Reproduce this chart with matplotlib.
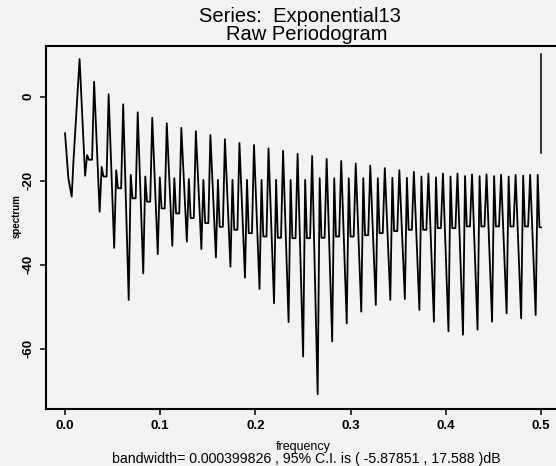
import numpy as np
import matplotlib
matplotlib.use("Agg")
import matplotlib.pyplot as plt

plt.rcParams['font.family'] = ['Liberation Sans', 'DejaVu Sans']

# harmonic spacing of the periodogram pattern (cycles per sample)
spacing = 0.01527

# start of the spectrum, before the first big harmonic
start_freq = [0.0, 0.0035, 0.007, 0.0088]
start_spec = [-8.7, -19.4, -23.8, -15.5]

# per harmonic k = 1..32: tall peak, deep trough, half-harmonic peak, flat dip (dB)
tall_peak = [9.0, 3.6, 0.6, -1.8, -3.7, -5.0, -6.3, -7.4, -8.2, -9.1, -10.1, -11.0,
             -11.5, -12.3, -12.9, -13.6, -14.1, -14.8, -15.3, -15.9, -16.4, -17.0,
             -17.5, -17.9, -18.3, -18.3, -18.3, -18.5, -18.5, -18.6, -18.6, -18.6]
deep_trough = [-18.8, -27.4, -36.0, -48.4, -42.1, -37.5, -35.5, -34.5, -36.3, -38.3,
               -40.5, -43.1, -45.8, -49.2, -53.7, -61.9, -70.9, -58.3, -54.0, -51.2,
               -49.6, -48.4, -48.2, -50.8, -53.6, -55.9, -56.7, -55.5, -53.6, -51.6,
               -52.8, -52.0]
half_peak = [-13.9, -16.7, -17.5, -18.6, -19.0, -19.2, -19.4, -19.6, -19.8, -19.8,
             -19.8, -19.8, -19.8, -19.8, -19.8, -19.8, -19.4, -19.4, -19.4, -19.4,
             -19.4, -19.3, -19.3, -19.0, -19.2, -19.0, -18.9, -18.9, -18.9, -19.0,
             -18.8, -18.6]
flat_dip = [-15.0, -19.0, -21.8, -24.2, -25.0, -26.6, -27.8, -28.9, -30.1, -31.0,
            -31.7, -32.5, -33.3, -33.6, -33.7, -33.7, -33.6, -33.3, -33.3, -33.0,
            -32.5, -32.0, -31.7, -31.7, -31.3, -31.3, -30.9, -30.9, -30.9, -30.9,
            -30.9, -31.1]

# 95% C.I. bar drawn at the right
ci_low, ci_high = -13.5, 10.1

# where each feature sits inside one harmonic cycle
offsets = [0.0, 0.38, 0.52, 0.64, 0.86]

k = np.arange(1, len(tall_peak) + 1)
pos = (k[:, None] + np.array(offsets)[None, :]) * spacing
pos = np.minimum(pos, 0.5)
vals = np.column_stack([tall_peak, deep_trough, half_peak, flat_dip, flat_dip])
freq = np.concatenate([start_freq, pos.ravel()])
spec = np.concatenate([start_spec, vals.ravel()])

bg = '#f3f3f3'
fig = plt.figure(figsize=(5.56, 4.66), dpi=100, facecolor=bg)
ax = fig.add_axes([46 / 556, 1 - 409 / 466, (560 - 46) / 556, (409 - 46) / 466])
ax.set_facecolor(bg)

ax.plot(freq, spec, color='black', linewidth=1.3)
ax.plot([0.5, 0.5], [ci_low, ci_high], color='black', linewidth=1.1)

ax.set_xlim(-0.02, 0.52)
ax.set_ylim(-74.4, 12.1)
ax.set_xticks([0.0, 0.1, 0.2, 0.3, 0.4, 0.5])
ax.set_xticklabels(['0.0', '0.1', '0.2', '0.3', '0.4', '0.5'], fontsize=9.5, fontweight='bold')
ax.set_yticks([0, -20, -40, -60])
ax.set_yticklabels(['0', '-20', '-40', '-60'], fontsize=9.5, fontweight='bold',
                   rotation=90, va='center')
ax.tick_params(direction='out', length=4, width=1.1, pad=4)
for s in ax.spines.values():
    s.set_linewidth(1.5)

# two title lines sit close together, as in the original
fig.text(300 / 556, 1 - 17 / 466, 'Series:  Exponential13', ha='center', va='center', fontsize=14.5)
fig.text(307 / 556, 1 - 34.5 / 466, 'Raw Periodogram', ha='center', va='center', fontsize=14.5)
fig.text(17 / 556, 1 - 216 / 466, 'spectrum', rotation=90, ha='center', va='center',
         fontsize=7, fontweight='bold')
fig.text(303 / 556, 1 - 447 / 466, 'frequency', ha='center', va='center', fontsize=9)
fig.text(306 / 556, 1 - 459 / 466,
         'bandwidth= 0.000399826 , 95% C.I. is ( -5.87851 , 17.588 )dB',
         ha='center', va='center', fontsize=10.2)

fig.savefig('out.png', dpi=100, facecolor=bg)
